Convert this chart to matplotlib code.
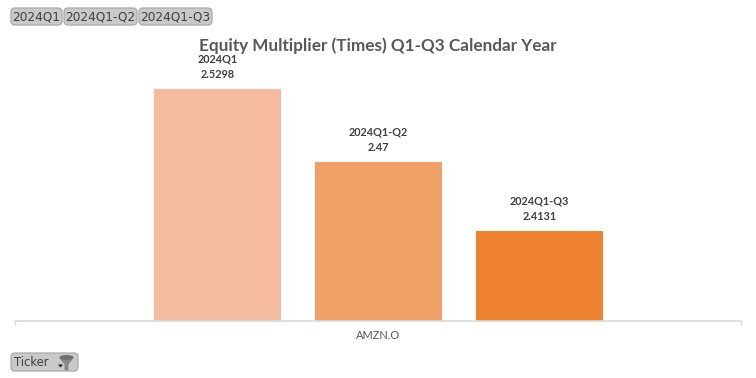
import matplotlib
matplotlib.use("Agg")
import matplotlib.pyplot as plt
from matplotlib.patches import FancyBboxPatch, Polygon, Ellipse
from matplotlib.transforms import Affine2D

W, H = 756, 378

periods = ["2024Q1", "2024Q1-Q2", "2024Q1-Q3"]
values = [2.5298, 2.47, 2.4131]
value_labels = ["2.5298", "2.47", "2.4131"]
ticker = "AMZN.O"
bar_colors = ["#F4BBA1", "#F09F66", "#EE822F"]

plt.rcParams["font.family"] = ["Lato", "DejaVu Sans"]

fig = plt.figure(figsize=(W / 100, H / 100), dpi=100)
px = Affine2D()  # 像素座標, 原點在左下

# 繪圖區, 用像素換算
ax = fig.add_axes([15 / W, 1 - 320.5 / H, 726 / W, 260.5 / H])
ax.bar([0, 1, 2], values, width=0.785, color=bar_colors)
ax.set_xlim(-1.258, 3.252)
ax.set_ylim(2.3398, 2.5538)
ax.set_yticks([])
ax.set_xticks([1])
ax.set_xticklabels([ticker], fontsize=7.9, color="#595959")
ax.tick_params(axis="x", length=0, pad=6.5)
# 軸線兩端的小刻度
ax.set_xticks([-1.258, 3.252], minor=True)
ax.tick_params(axis="x", which="minor", length=3.2, width=1, color="#D9D9D9")
for s in ["top", "left", "right"]:
    ax.spines[s].set_visible(False)
ax.spines["bottom"].set_color("#D9D9D9")
ax.spines["bottom"].set_linewidth(1.2)

for i in range(3):
    ax.annotate(periods[i] + "\n" + value_labels[i], (i, values[i]), xytext=(0, 6.5),
                textcoords="offset points", ha="center", va="bottom", fontsize=7.8,
                fontweight="bold", color="#404040", linespacing=1.55,
                annotation_clip=False)

fig.text(378 / W, 1 - 46 / H, "Equity Multiplier (Times) Q1-Q3 Calendar Year", ha="center",
         va="center", fontsize=12.35, fontweight="bold", color="#595959")


def px_box(x0, y0, x1, y1):
    # 像素座標的圓角按鈕
    box = FancyBboxPatch((x0, H - y1), x1 - x0, y1 - y0, boxstyle="round,pad=0,rounding_size=4",
                         facecolor="#C9C9C9", edgecolor="#ABABAB", linewidth=0.9,
                         transform=px, zorder=3)
    fig.add_artist(box)


# 上方切片器按鈕
buttons = [(11, 62), (64, 137), (139, 212)]
for i in range(3):
    x0, x1 = buttons[i]
    px_box(x0, 8, x1, 25)
    fig.text((x0 + x1) / 2 / W, 1 - 17 / H, periods[i], ha="center", va="center",
             fontsize=8.7, color="#404040", family=["DejaVu Sans"], zorder=4)

# Ticker 按鈕
px_box(11, 353, 78, 371)
fig.text(14 / W, 1 - 362 / H, "Ticker", ha="left", va="center", fontsize=8.3,
         color="#404040", family=["DejaVu Sans"], zorder=4)

# 漏斗圖示
funnel = Polygon([(60, H - 358), (73, H - 358), (68, H - 364), (68, H - 370), (65, H - 370), (65, H - 364)],
                 closed=True, facecolor="#8A8A8A", edgecolor="#7A7A7A", linewidth=0.5, transform=px, zorder=5)
fig.add_artist(funnel)
fig.add_artist(Ellipse((66.5, H - 357.5), 14, 5, facecolor="#6E6E6E", edgecolor="none", transform=px, zorder=5))
arrow = Polygon([(58, H - 364.5), (63, H - 364.5), (60.5, H - 367.5)], closed=True,
                facecolor="#222222", edgecolor="none", transform=px, zorder=5)
fig.add_artist(arrow)

fig.savefig("out.png", dpi=100)
